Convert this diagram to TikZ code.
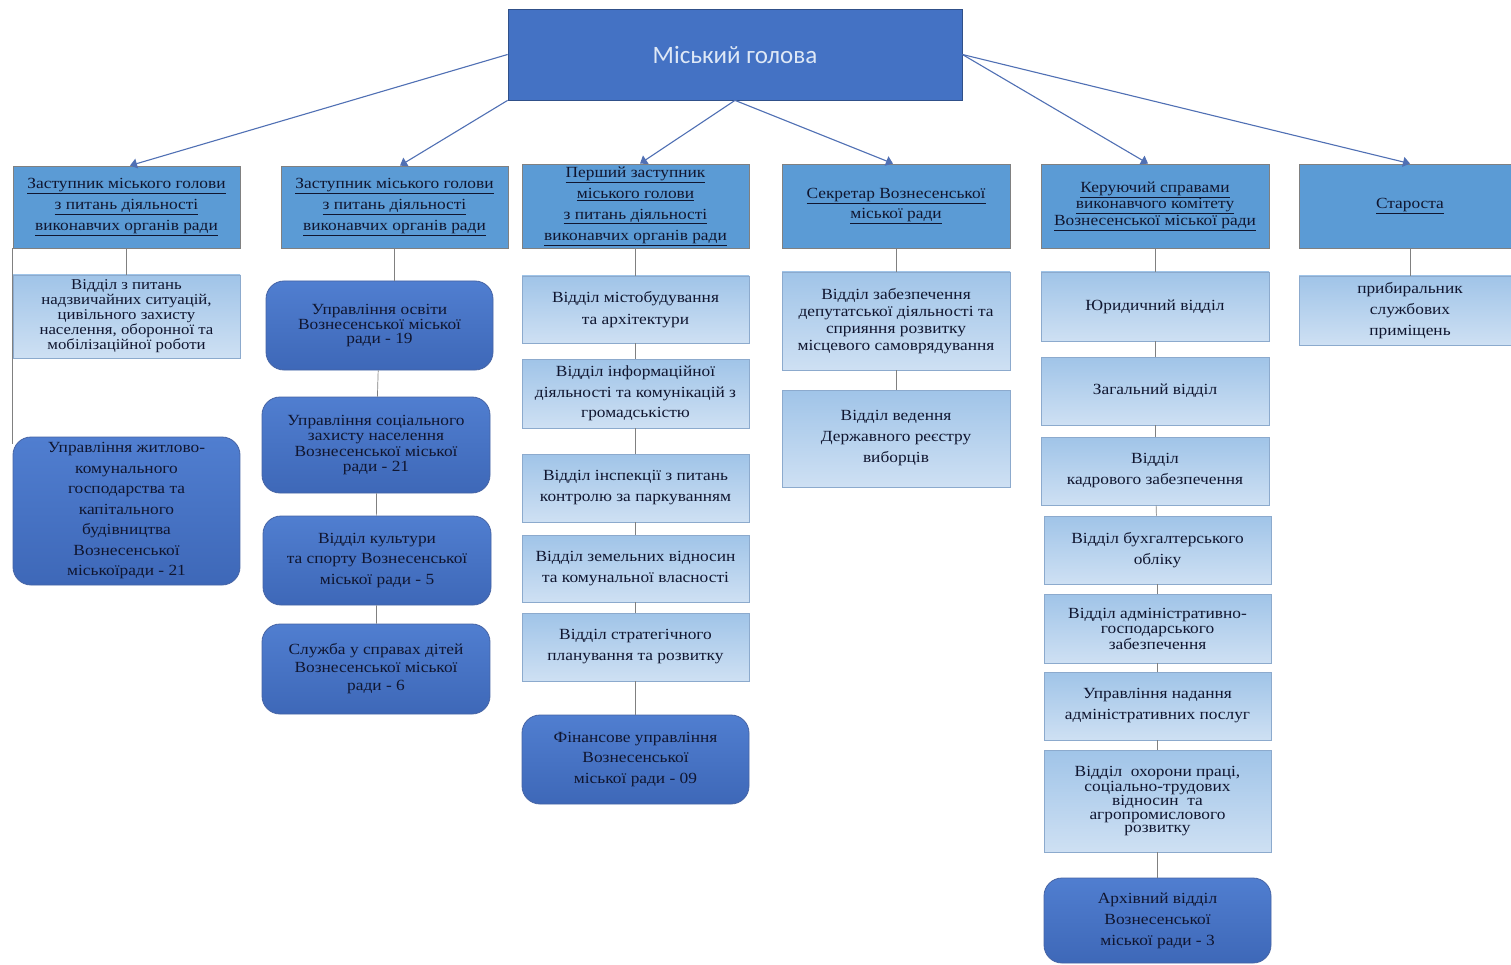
\documentclass[tikz,border=0pt]{standalone}
\usepackage{fontspec}
\setmainfont{Liberation Serif}[FakeStretch=1.12]
\newfontfamily\titlefont{Carlito}
\usetikzlibrary{arrows.meta}
\definecolor{topblue}{RGB}{68,114,196}
\definecolor{hdrblue}{RGB}{91,155,213}
\definecolor{lighttop}{RGB}{160,196,232}
\definecolor{lightbot}{RGB}{206,224,243}
\definecolor{lightedge}{RGB}{140,170,205}
\definecolor{darktop}{RGB}{80,126,208}
\definecolor{darkbot}{RGB}{62,104,184}
\definecolor{darkedge}{RGB}{70,100,165}
\definecolor{txt}{RGB}{16,22,48}
\definecolor{titletxt}{RGB}{222,232,246}
\definecolor{edgegray}{RGB}{128,128,128}
\definecolor{arrowblue}{RGB}{80,112,180}
\newcommand\fsz[2]{\fontsize{#1}{#2}\selectfont}
\tikzset{
 base/.style={inner sep=0pt, align=center, text=txt},
 topbox/.style={base, fill=topblue, draw=topblue!70!black, line width=0.8pt, text=titletxt, font=\titlefont\fsz{25}{28}},
 hdr/.style={base, fill=hdrblue, draw=edgegray, line width=0.8pt, font=\fsz{15.5}{21}},
 lbox/.style={base, top color=lighttop, bottom color=lightbot, draw=lightedge, line width=0.8pt, font=\fsz{15.5}{21}},
 dbox/.style={base, top color=darktop, bottom color=darkbot, draw=darkedge, rounded corners=18pt, line width=0.8pt, font=\fsz{15.5}{21}},
 link/.style={draw=edgegray, line width=0.7pt},
 arr/.style={draw=arrowblue, line width=1.1pt, -{Triangle[length=7pt,width=10pt]}},
}
\begin{document}
\begin{tikzpicture}[x=1pt,y=-1pt]
\clip (0,0) rectangle (1511,965);
\fill[white] (0,0) rectangle (1511,965);

% top
\node[topbox, minimum width=454, minimum height=91] (top) at (735,54.5) {Міський голова};

% headers
\node[hdr, minimum width=227, minimum height=82] (h1) at (126.5,207)
 {\underline{Заступник міського голови}\\\underline{з питань діяльності}\\\underline{виконавчих органів ради}};
\node[hdr, minimum width=227, minimum height=82] (h2) at (394.5,207)
 {\underline{Заступник міського голови}\\\underline{з питань діяльності}\\\underline{виконавчих органів ради}};
\node[hdr, minimum width=227, minimum height=84] (h3) at (635.5,206)
 {\underline{Перший заступник}\\\underline{міського голови}\\\underline{з питань діяльності}\\\underline{виконавчих органів ради}};
\node[hdr, minimum width=228, minimum height=84, font=\fsz{15.5}{20}] (h4) at (896,206)
 {\underline{Секретар Вознесенської}\\\underline{міської ради}};
\node[hdr, minimum width=228, minimum height=84, font=\fsz{15.5}{15.5}] (h5) at (1155,206)
 {\underline{Керуючий справами}\\\underline{виконавчого комітету}\\\underline{Вознесенської міської ради}};
\node[hdr, minimum width=222, minimum height=84] (h6) at (1410,206) {\underline{Староста}};

% arrows
\draw[arr] (top.west) -- ([xshift=3.5]h1.north);
\draw[arr] (top.south west) -- ([xshift=5.5]h2.north);
\draw[arr] (top.south) -- ([xshift=4.5]h3.north);
\draw[arr] (top.south) -- ([xshift=-3]h4.north);
\draw[arr] (top.east) -- ([xshift=-7]h5.north);
\draw[arr] (top.east) -- (h6.north);

% column 1
\node[lbox, minimum width=227, minimum height=83, font=\fsz{15}{15}] (c1a) at (126.5,316.5)
 {Відділ з питань\\надзвичайних ситуацій,\\цивільного захисту\\населення, оборонної та\\мобілізаційної роботи};
\node[dbox, minimum width=227, minimum height=148, font=\fsz{15.5}{20.5}] (c1b) at (126.5,511)
 {Управління житлово-\\комунального\\господарства та\\капітального\\будівництва\\Вознесенської\\міськоїради - 21};
\draw[link] (h1) -- (c1a);
\draw[link] (h1.south west) -- ([yshift=-7]h1.south west |- c1b.north);

% column 2
\node[dbox, minimum width=227, minimum height=89, font=\fsz{15.5}{13.5}] (c2a) at (379.5,325.5)
 {Управління освіти\\Вознесенської міської\\ради - 19};
\node[dbox, minimum width=228, minimum height=96, font=\fsz{15.5}{15.5}] (c2b) at (376,445)
 {Управління соціального\\захисту населення\\Вознесенської міської\\ради - 21};
\node[dbox, minimum width=228, minimum height=89, font=\fsz{15.5}{20.5}] (c2c) at (377,560.5)
 {Відділ культури\\та спорту Вознесенської\\міської ради - 5};
\node[dbox, minimum width=228, minimum height=90, font=\fsz{15.5}{18}] (c2d) at (376,669)
 {Служба у справах дітей\\Вознесенської міської\\ради - 6};
\draw[link] (h2.south) -- (h2.south |- c2a.north);
\draw[link] (c2a) -- (c2b);
\draw[link] (c2b) -- (c2c);
\draw[link] (c2c) -- (c2d);

% column 3
\node[lbox, minimum width=227, minimum height=67, font=\fsz{15.5}{22}] (c3a) at (635.5,309.5)
 {Відділ містобудування\\та архітектури};
\node[lbox, minimum width=227, minimum height=69, font=\fsz{15.5}{20.5}] (c3b) at (635.5,393.5)
 {Відділ інформаційної\\діяльності та комунікацій з\\громадськістю};
\node[lbox, minimum width=227, minimum height=68] (c3c) at (635.5,488)
 {Відділ інспекції з питань\\контролю за паркуванням};
\node[lbox, minimum width=227, minimum height=67] (c3d) at (635.5,568.5)
 {Відділ земельних відносин\\та комунальної власності};
\node[lbox, minimum width=227, minimum height=68] (c3e) at (635.5,647)
 {Відділ стратегічного\\планування та розвитку};
\node[dbox, minimum width=227, minimum height=89, font=\fsz{15.5}{20.5}] (c3f) at (635.5,759.5)
 {Фінансове управління\\Вознесенської\\міської ради - 09};
\draw[link] (h3) -- (c3a);
\draw[link] (c3a) -- (c3b);
\draw[link] (c3b) -- (c3c);
\draw[link] (c3c) -- (c3d);
\draw[link] (c3d) -- (c3e);
\draw[link] (c3e) -- (c3f);

% column 4
\node[lbox, minimum width=228, minimum height=98, font=\fsz{15.5}{17}] (c4a) at (896,321)
 {Відділ забезпечення\\депутатської діяльності та\\сприяння розвитку\\місцевого самоврядування};
\node[lbox, minimum width=228, minimum height=97] (c4b) at (896,438.5)
 {Відділ ведення\\Державного реєстру\\виборців};
\draw[link] (h4) -- (c4a);
\draw[link] (c4a) -- (c4b);

% column 5
\node[lbox, minimum width=228, minimum height=69] (c5a) at (1155,306.5) {Юридичний відділ};
\node[lbox, minimum width=228, minimum height=68] (c5b) at (1155,391) {Загальний відділ};
\node[lbox, minimum width=228, minimum height=68] (c5c) at (1155,471) {Відділ\\кадрового забезпечення};
\node[lbox, minimum width=227, minimum height=68] (c5d) at (1157.5,550) {Відділ бухгалтерського\\обліку};
\node[lbox, minimum width=227, minimum height=69, font=\fsz{15.5}{15.5}] (c5e) at (1157.5,628.5)
 {Відділ адміністративно-\\господарського\\забезпечення};
\node[lbox, minimum width=227, minimum height=68] (c5f) at (1157.5,706)
 {Управління надання\\адміністративних послуг};
\node[lbox, minimum width=227, minimum height=102, font=\fsz{15.5}{13.2}] (c5g) at (1157.5,801)
 {Відділ\ \ охорони праці,\\соціально-трудових\\відносин\ \ та\\агропромислового\\розвитку};
\node[dbox, minimum width=227, minimum height=85] (c5h) at (1157.5,920.5)
 {Архівний відділ\\Вознесенської\\міської ради - 3};
\draw[link] (h5) -- (c5a);
\draw[link] (c5a) -- (c5b);
\draw[link] (c5b) -- (c5c);
\draw[link] (c5c) -- (c5d);
\draw[link] (c5d) -- (c5e);
\draw[link] (c5e) -- (c5f);
\draw[link] (c5f) -- (c5g);
\draw[link] (c5g) -- (c5h);

% column 6
\node[lbox, minimum width=222, minimum height=69] (c6a) at (1410,310.5)
 {прибиральник\\службових\\приміщень};
\draw[link] (h6) -- (c6a);
\end{tikzpicture}
\end{document}
